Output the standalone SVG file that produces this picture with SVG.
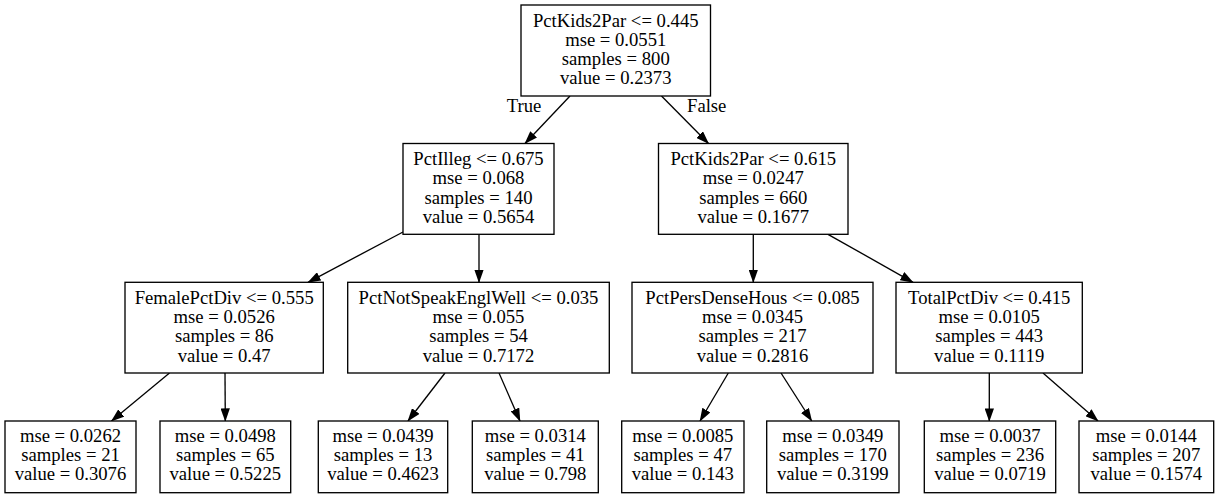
<svg xmlns="http://www.w3.org/2000/svg" width="1215" height="497" viewBox="0 0 1215 497">
<style>
.box{fill:#fff;stroke:#000;stroke-width:1.33}
text{font-family:"Liberation Serif","Times New Roman",serif;font-size:18.67px;fill:#000;text-anchor:middle}
.edge{fill:none;stroke:#000;stroke-width:1.33;marker-end:url(#arr)}
</style>
<defs>
<marker id="arr" viewBox="0 0 13.33 9.33" refX="12.6" refY="4.67" markerWidth="13.33" markerHeight="9.33" markerUnits="userSpaceOnUse" orient="auto">
<path d="M0,0 L13.33,4.67 L0,9.33 z" fill="#000"/>
</marker>
</defs>
<rect width="1215" height="497" fill="#fff"/>
<g id="connectors">
<path class="edge" d="M570,96 L525,143.5"/>
<path class="edge" d="M661.5,96 L708.5,143.5"/>
<path class="edge" d="M403,232 L308,282.3"/>
<path class="edge" d="M479,234.3 L479,282.3"/>
<path class="edge" d="M753.3,234.3 L753.3,282.3"/>
<path class="edge" d="M828,234.3 L913,282.3"/>
<path class="edge" d="M169.5,373 L111.5,421"/>
<path class="edge" d="M225,373 L225.3,421"/>
<path class="edge" d="M445,373 L408,421"/>
<path class="edge" d="M499,373 L520,421"/>
<path class="edge" d="M728.3,373 L700,421"/>
<path class="edge" d="M781,373 L811.7,421"/>
<path class="edge" d="M989.3,373 L989.3,421"/>
<path class="edge" d="M1043,373 L1098,421"/>
<text x="524" y="111.5">True</text>
<text x="706.7" y="111.5">False</text>
</g>
<g id="n0">
<rect class="box" x="521" y="5" width="189.5" height="91"/>
<text x="615.75" y="26.6">PctKids2Par &lt;= 0.445</text>
<text x="615.75" y="45.8">mse = 0.0551</text>
<text x="615.75" y="65">samples = 800</text>
<text x="615.75" y="84.2">value = 0.2373</text>
</g>
<g id="n1">
<rect class="box" x="403" y="143.5" width="151" height="90.8"/>
<text x="478.5" y="165.1">PctIlleg &lt;= 0.675</text>
<text x="478.5" y="184.3">mse = 0.068</text>
<text x="478.5" y="203.5">samples = 140</text>
<text x="478.5" y="222.7">value = 0.5654</text>
</g>
<g id="n8">
<rect class="box" x="658.5" y="143.5" width="189.5" height="90.8"/>
<text x="753.25" y="165.1">PctKids2Par &lt;= 0.615</text>
<text x="753.25" y="184.3">mse = 0.0247</text>
<text x="753.25" y="203.5">samples = 660</text>
<text x="753.25" y="222.7">value = 0.1677</text>
</g>
<g id="n2">
<rect class="box" x="125" y="282.3" width="198.3" height="90.7"/>
<text x="224.2" y="303.6">FemalePctDiv &lt;= 0.555</text>
<text x="224.2" y="322.9">mse = 0.0526</text>
<text x="224.2" y="342.2">samples = 86</text>
<text x="224.2" y="361.5">value = 0.47</text>
</g>
<g id="n5">
<rect class="box" x="347.7" y="282.3" width="261.6" height="90.7"/>
<text x="478.5" y="303.6">PctNotSpeakEnglWell &lt;= 0.035</text>
<text x="478.5" y="322.9">mse = 0.055</text>
<text x="478.5" y="342.2">samples = 54</text>
<text x="478.5" y="361.5">value = 0.7172</text>
</g>
<g id="n9">
<rect class="box" x="632" y="282.3" width="241" height="90.7"/>
<text x="752.5" y="303.6">PctPersDenseHous &lt;= 0.085</text>
<text x="752.5" y="322.9">mse = 0.0345</text>
<text x="752.5" y="342.2">samples = 217</text>
<text x="752.5" y="361.5">value = 0.2816</text>
</g>
<g id="n12">
<rect class="box" x="896" y="282.3" width="186.3" height="90.7"/>
<text x="989.2" y="303.6">TotalPctDiv &lt;= 0.415</text>
<text x="989.2" y="322.9">mse = 0.0105</text>
<text x="989.2" y="342.2">samples = 443</text>
<text x="989.2" y="361.5">value = 0.1119</text>
</g>
<g id="n3">
<rect class="box" x="5" y="421" width="131" height="71.7"/>
<text x="70.5" y="441.8">mse = 0.0262</text>
<text x="70.5" y="461">samples = 21</text>
<text x="70.5" y="480.2">value = 0.3076</text>
</g>
<g id="n4">
<rect class="box" x="160" y="421" width="130.7" height="71.7"/>
<text x="225.3" y="441.8">mse = 0.0498</text>
<text x="225.3" y="461">samples = 65</text>
<text x="225.3" y="480.2">value = 0.5225</text>
</g>
<g id="n6">
<rect class="box" x="318.3" y="421" width="129.4" height="71.7"/>
<text x="383" y="441.8">mse = 0.0439</text>
<text x="383" y="461">samples = 13</text>
<text x="383" y="480.2">value = 0.4623</text>
</g>
<g id="n7">
<rect class="box" x="472.3" y="421" width="126" height="71.7"/>
<text x="535.3" y="441.8">mse = 0.0314</text>
<text x="535.3" y="461">samples = 41</text>
<text x="535.3" y="480.2">value = 0.798</text>
</g>
<g id="n10">
<rect class="box" x="621.7" y="421" width="122.3" height="71.7"/>
<text x="682.8" y="441.8">mse = 0.0085</text>
<text x="682.8" y="461">samples = 47</text>
<text x="682.8" y="480.2">value = 0.143</text>
</g>
<g id="n11">
<rect class="box" x="766.7" y="421" width="132.3" height="71.7"/>
<text x="832.8" y="441.8">mse = 0.0349</text>
<text x="832.8" y="461">samples = 170</text>
<text x="832.8" y="480.2">value = 0.3199</text>
</g>
<g id="n13">
<rect class="box" x="924.3" y="421" width="131.4" height="71.7"/>
<text x="990" y="441.8">mse = 0.0037</text>
<text x="990" y="461">samples = 236</text>
<text x="990" y="480.2">value = 0.0719</text>
</g>
<g id="n14">
<rect class="box" x="1079" y="421" width="134.7" height="71.7"/>
<text x="1146.3" y="441.8">mse = 0.0144</text>
<text x="1146.3" y="461">samples = 207</text>
<text x="1146.3" y="480.2">value = 0.1574</text>
</g>
</svg>
